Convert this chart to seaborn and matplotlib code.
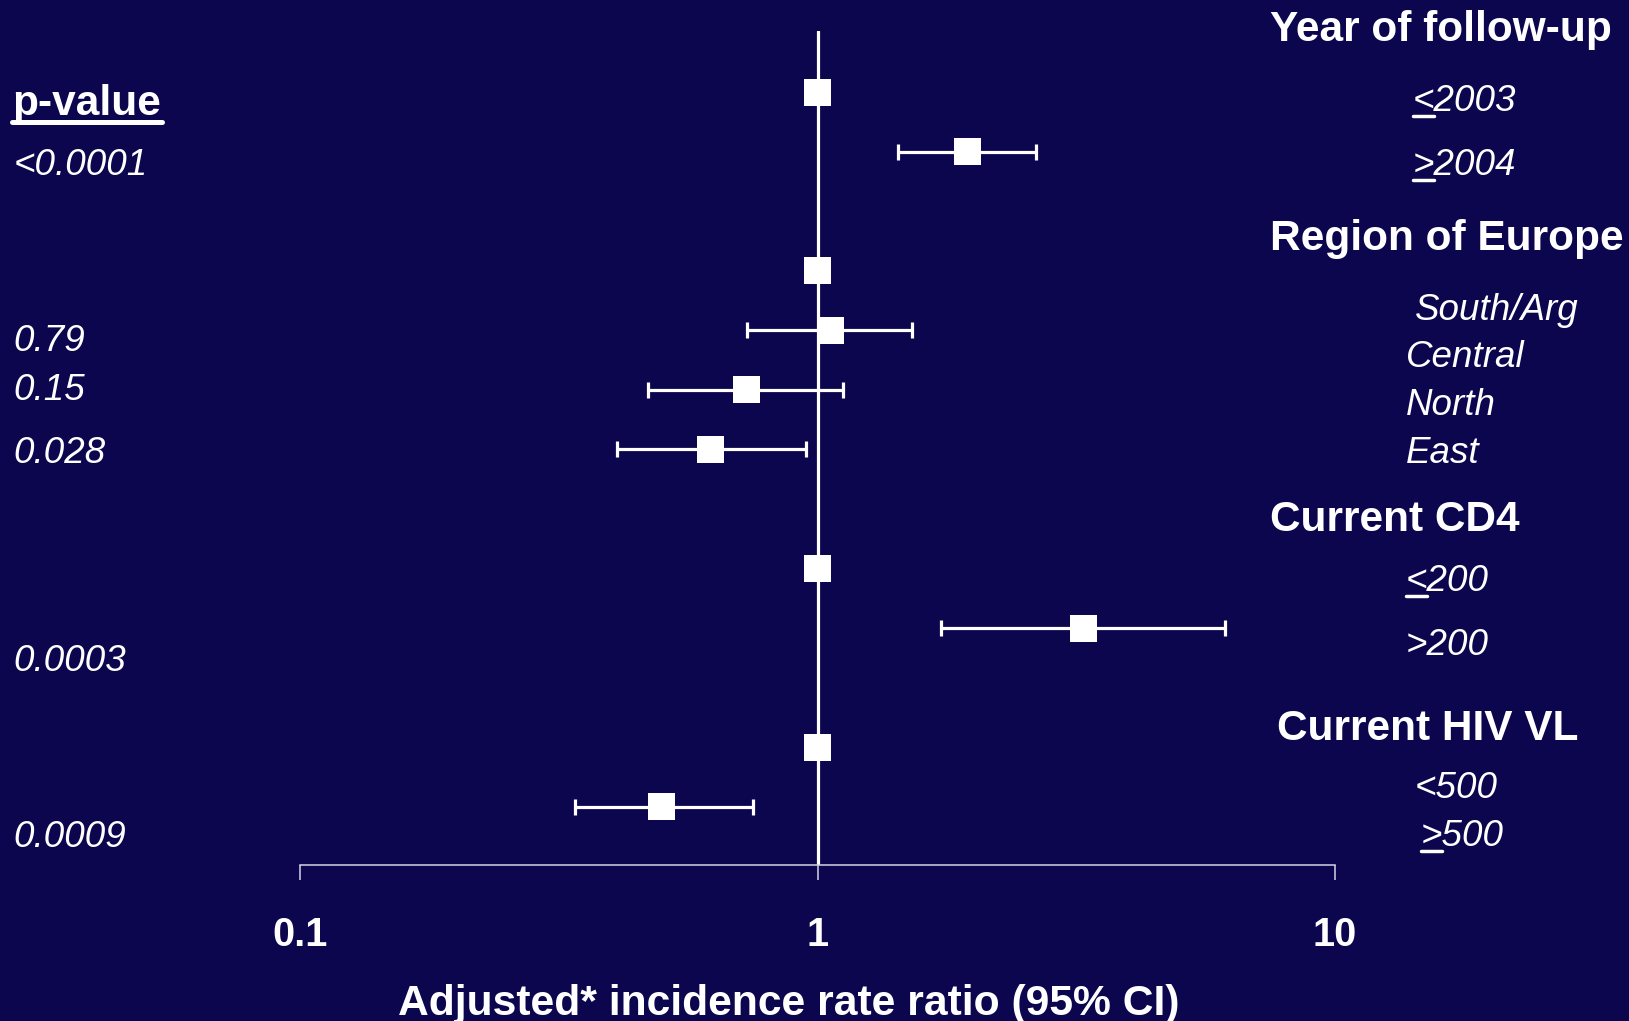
import numpy as np
import pandas as pd
import seaborn as sns
import matplotlib.pyplot as plt
from matplotlib.lines import Line2D
from matplotlib.ticker import NullLocator

# values (IRR = 1 marks the reference level)
groups = ['Year of follow-up', 'Region of Europe', 'Current CD4', 'Current HIV VL']
levels = [['\u22642003', '\u22652004'],
          ['South/Arg', 'Central', 'North', 'East'],
          ['\u2264200', '>200'],
          ['<500', '\u2265500']]
irr = [1.0, 1.95, 1.0, 1.06, 0.73, 0.62, 1.0, 3.26, 1.0, 0.50]
ci_low = [np.nan, 1.43, np.nan, 0.73, 0.47, 0.41, np.nan, 1.73, np.nan, 0.34]
ci_high = [np.nan, 2.64, np.nan, 1.52, 1.12, 0.95, np.nan, 6.14, np.nan, 0.75]
pvalues = ['', '<0.0001', '', '0.79', '0.15', '0.028', '', '0.0003', '', '0.0009']
xticks = [0.1, 1, 10]
xtick_labels = ['0.1', '1', '10']
xlabel = 'Adjusted* incidence rate ratio (95% CI)'

# one row slot per level, an empty slot between groups
rows = []
slot = 0
for g, lv in zip(groups, levels):
    for name in lv:
        rows.append((g, name, slot))
        slot += 1
    slot += 1
df = pd.DataFrame(rows, columns=['group', 'level', 'row'])
df['irr'] = irr
df['lo'] = ci_low
df['hi'] = ci_high
df['p'] = pvalues

bg = '#0b064e'
W, H = 1629, 1021

sns.set_theme(style='dark')
plt.rcParams['font.family'] = ['Liberation Sans', 'DejaVu Sans']

fig = plt.figure(figsize=(W / 100, H / 100), dpi=100)
fig.patch.set_facecolor(bg)
ax = fig.add_axes([300 / W, 156 / H, 1035 / W, 834 / H])
ax.set_facecolor(bg)
ax.set_xscale('log')

ax.axvline(1, color='white', lw=2.3, zorder=1)

ci = df.dropna(subset=['lo'])
ax.errorbar(ci['irr'], ci['row'], xerr=[ci['irr'] - ci['lo'], ci['hi'] - ci['irr']],
            fmt='none', ecolor='white', elinewidth=2.3, capsize=6, capthick=2.3, zorder=2)
sns.scatterplot(data=df, x='irr', y='row', marker='s', s=19.4 ** 2, color='white',
                edgecolor='none', linewidth=0, zorder=3, legend=False, ax=ax)

ax.set_xlim(0.1, 10)
ax.set_ylim(12.98, -1.03)
ax.set_xticks(xticks, labels=xtick_labels)
ax.xaxis.set_minor_locator(NullLocator())
ax.set_yticks([])
ax.set_xlabel('')
ax.set_ylabel('')
ax.grid(False)
for side in ['top', 'right', 'left']:
    ax.spines[side].set_visible(False)
ax.spines['bottom'].set_color('#d4d4e2')
ax.spines['bottom'].set_linewidth(1.1)
ax.tick_params(axis='x', bottom=True, direction='out', length=10.8, width=1.1,
               color='#d4d4e2', pad=26, labelsize=28.5, labelcolor='white')
for t in ax.get_xticklabels():
    t.set_fontweight('bold')


def put(x, y, s, **kw):
    # x, y in pixels from the top-left corner, y at the text baseline
    fig.text(x / W, 1 - y / H, s, color='white', va='baseline', **kw)


def hline(x0, x1, y, lw):
    fig.add_artist(Line2D([x0 / W, x1 / W], [1 - y / H, 1 - y / H], color='white', lw=lw))


put(788.6, 1015, xlabel, ha='center', fontsize=30.7, fontweight='bold')

# p-value column
put(12.5, 115, 'p-value', fontsize=30.5, fontweight='bold')
hline(12, 162, 122.5, 3.6)
p_y = [175, 351, 399.5, 463, 671, 847]
for s, y in zip([p for p in pvalues if p], p_y):
    put(13.5, y, s, fontsize=26.5, style='italic')

# group headings and level names on the right
head_pos = [(1270, 41), (1270, 250), (1270, 531), (1277, 740)]
for g, (x, y) in zip(groups, head_pos):
    put(x, y, g, fontsize=30.5, fontweight='bold')
level_pos = [(1413, 111), (1413, 175),
             (1415, 319.5), (1406, 367), (1406, 415), (1406, 463),
             (1406, 591), (1406, 655),
             (1415, 798.5), (1421, 846)]
fs_level = 26.5
em = fs_level * 100 / 72
for name, (x, y) in zip(df['level'], level_pos):
    # the slide writes <= and >= as an underlined < or >
    if name[0] in '\u2264\u2265':
        name = ('<' if name[0] == '\u2264' else '>') + name[1:]
        hline(x, x + 0.584 * em, y + 4.7, 2.5)
    put(x, y, name, fontsize=fs_level, style='italic')

plt.savefig('out.png', dpi=100, facecolor=bg)
